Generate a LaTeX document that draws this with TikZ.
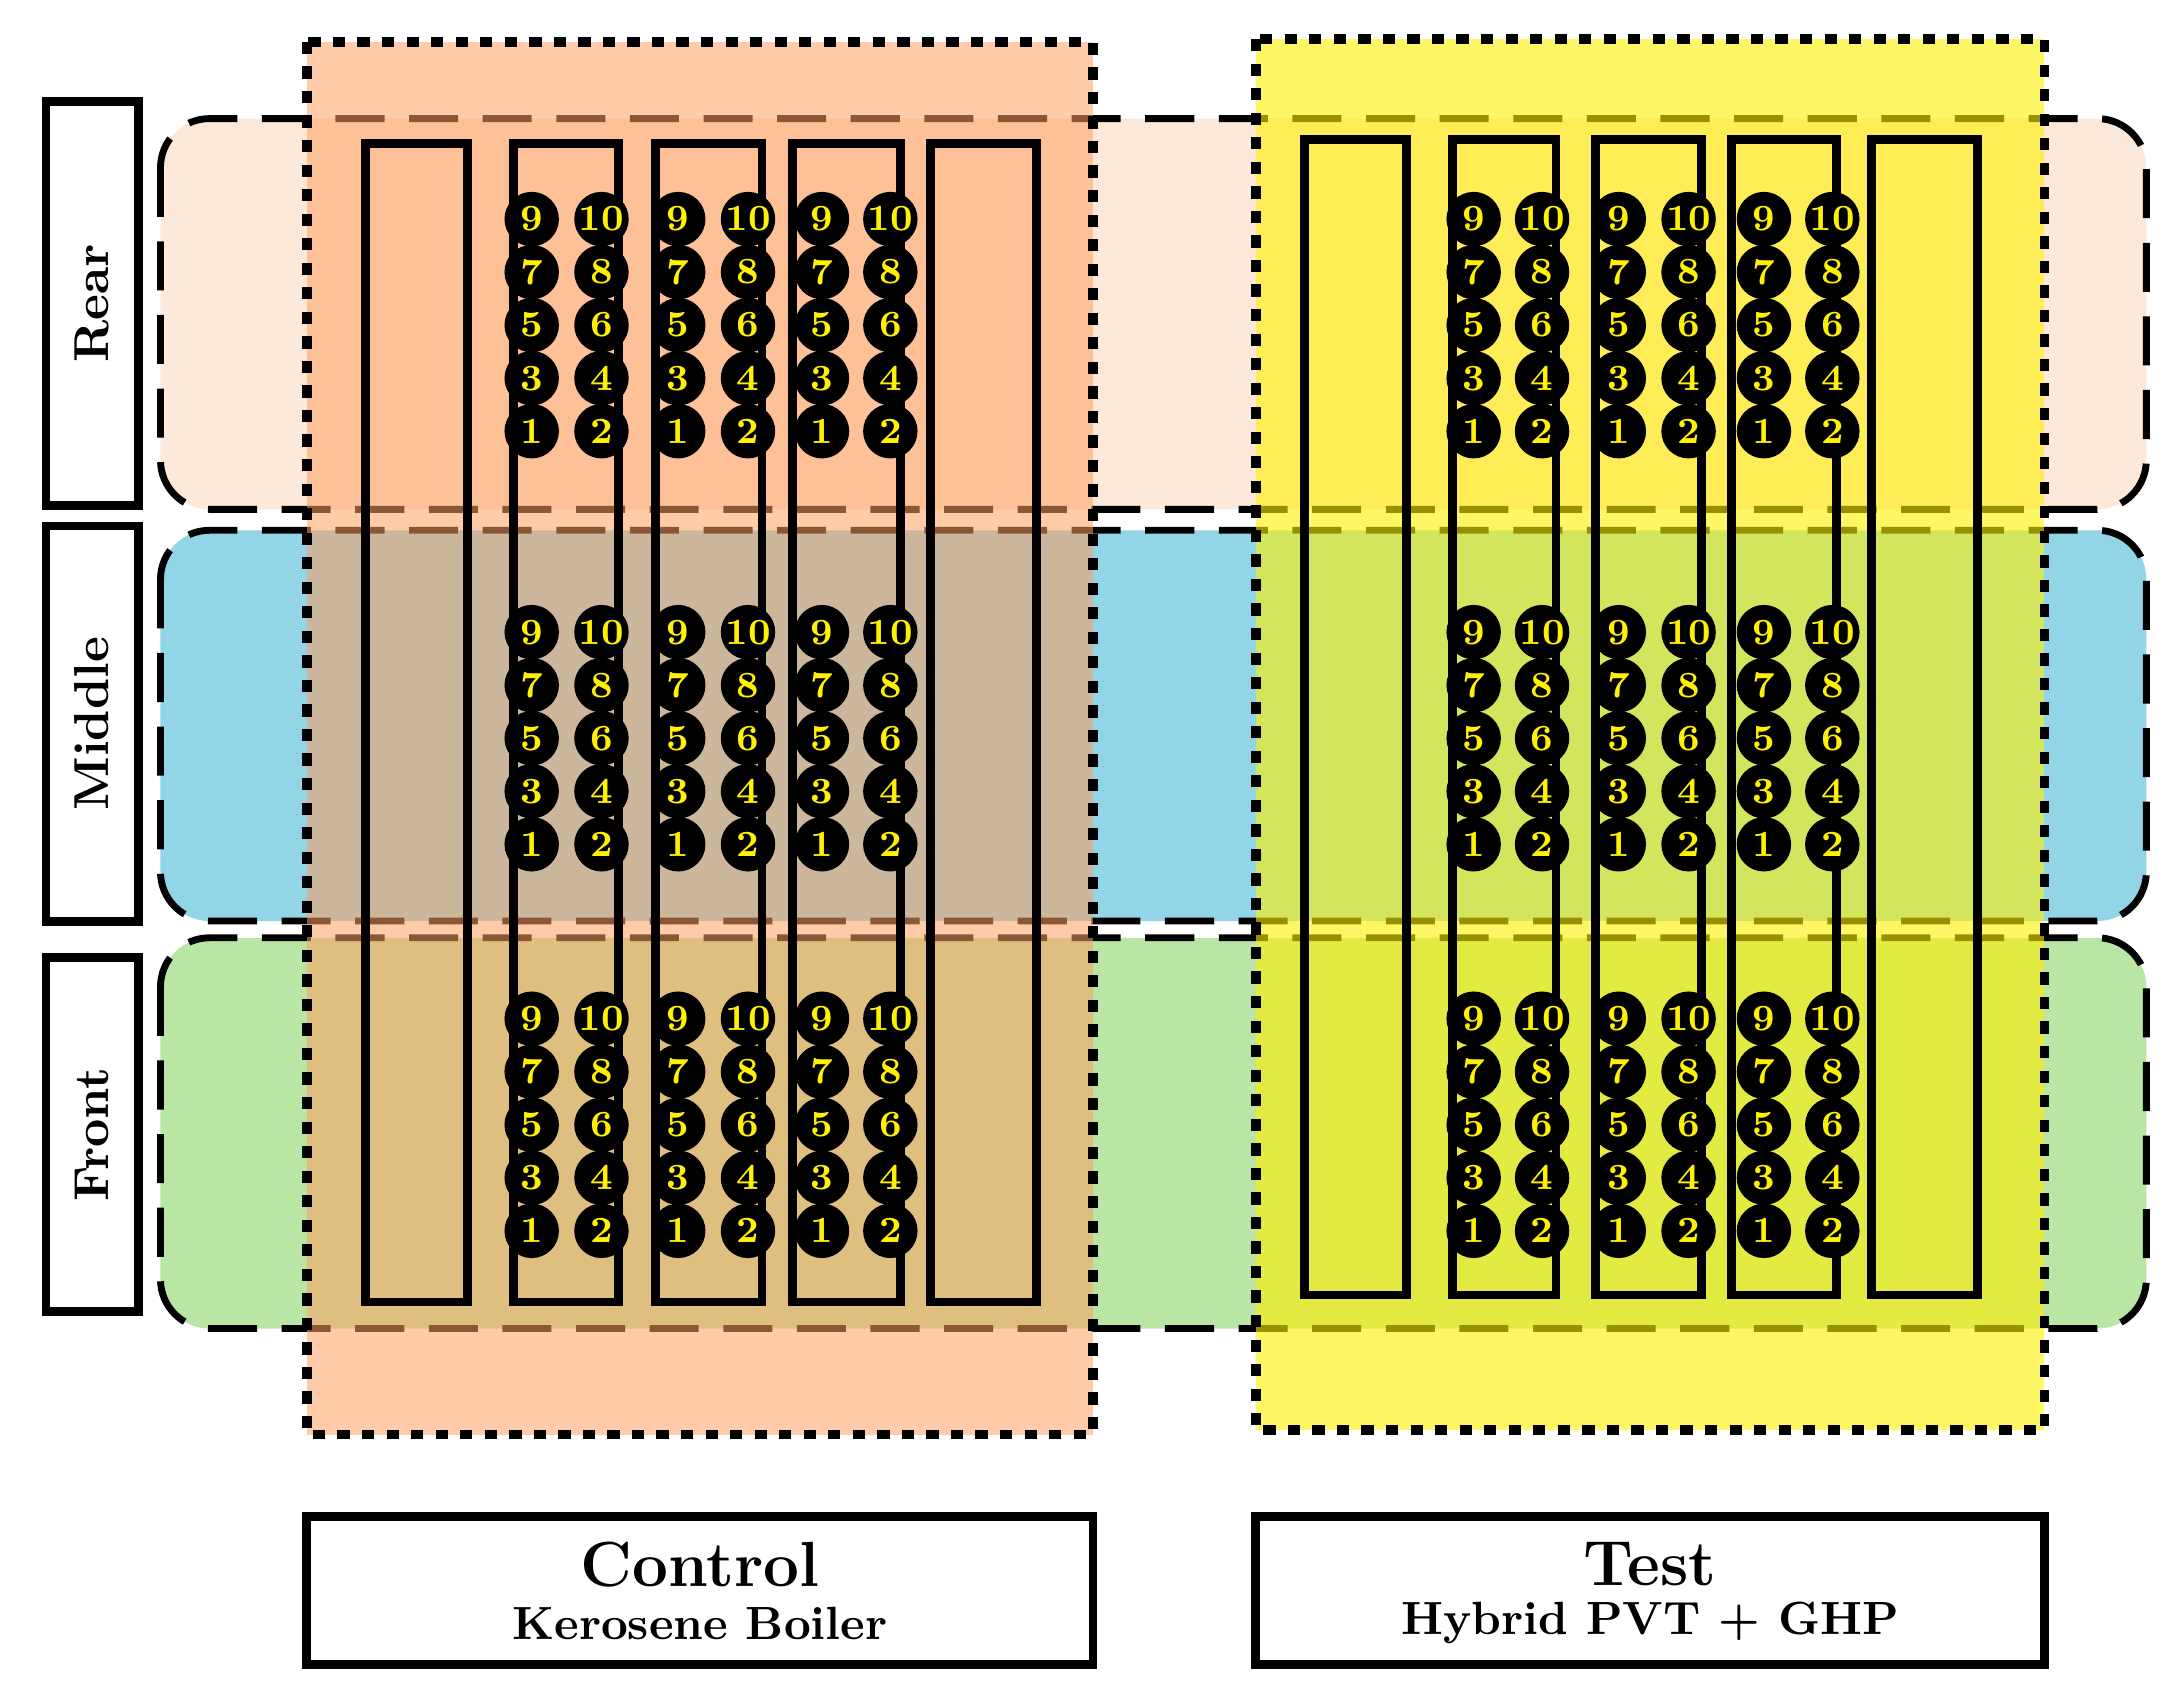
\documentclass[tikz,border=0pt]{standalone}
\usepackage{tikz}
\usetikzlibrary{positioning}
\definecolor{rearband}{HTML}{FDE9DA}
\definecolor{midband}{HTML}{92D5E6}
\definecolor{frontband}{HTML}{B9E5A5}
\definecolor{ctrlfill}{HTML}{FFA060}
\definecolor{testfill}{HTML}{FFF000}
\definecolor{numcol}{HTML}{FFF200}
\tikzset{
  band/.style={draw=black, line width=1.4pt, dash pattern=on 10pt off 5pt, rounded corners=10pt},
  column/.style={draw=black, line width=2pt, dash pattern=on 2.5pt off 2.5pt, fill opacity=0.6},
  rack/.style={draw=black, line width=1.8pt},
  label box/.style={draw=black, line width=1.8pt, fill=white},
  sensor/.style={circle, fill=black, minimum width=0.39cm, inner sep=0pt, text=numcol, font=\bfseries\fontsize{7.5}{7.5}\selectfont},
}
\begin{document}
\begin{tikzpicture}[x=0.01cm, y=-0.01cm]
\useasboundingbox (0,0) rectangle (1560,1216);

% row bands
\fill[rearband, rounded corners=10pt] (115,85) rectangle (1538,365);
\fill[midband, rounded corners=10pt] (115,380) rectangle (1538,660);
\fill[frontband, rounded corners=10pt] (115,672) rectangle (1538,952);
\draw[band] (115,85) rectangle (1538,365);
\draw[band] (115,380) rectangle (1538,660);
\draw[band] (115,672) rectangle (1538,952);

% columns
\fill[ctrlfill, opacity=0.55] (220,30) rectangle (783,1028);
\fill[testfill, opacity=0.6] (900,28) rectangle (1465,1025);
\draw[column] (220,30) rectangle (783,1028);
\draw[column] (900,28) rectangle (1465,1025);

% racks
\foreach \xa/\xb in {262/335, 368/443, 470/546, 568/645, 667/743}
  \draw[rack] (\xa,103) rectangle (\xb,933);
\foreach \xa/\xb in {935/1008, 1041/1115, 1143/1219, 1241/1316, 1341/1417}
  \draw[rack] (\xa,100) rectangle (\xb,928);

% sensors
\foreach \side/\xl/\xr in {c1/381/431, c2/486/536, c3/589/638, t1/1056/1105, t2/1160/1210, t3/1264/1313}
  \foreach \row/\ytop in {r/157, m/453, f/730}
    \foreach \k in {0,...,4} {
      \pgfmathsetmacro{\yy}{\ytop+38*(4-\k)}
      \pgfmathtruncatemacro{\na}{2*\k+1}
      \pgfmathtruncatemacro{\nb}{2*\k+2}
      \node[sensor] (s-\side-\row-\na) at (\xl,\yy) {\na};
      \node[sensor] (s-\side-\row-\nb) at (\xr,\yy) {\nb};
    }

% row labels
\node[label box, minimum width=0.66cm, minimum height=2.89cm] (rear) at (66,217.5) {};
\node[rotate=90, font=\bfseries] at (rear) {Rear};
\node[label box, minimum width=0.66cm, minimum height=2.83cm] (middle) at (66,518.5) {};
\node[rotate=90, font=\bfseries] at (middle) {Middle};
\node[label box, minimum width=0.66cm, minimum height=2.54cm] (front) at (66,813) {};
\node[rotate=90, font=\bfseries] at (front) {Front};

% group labels
\node[label box, minimum width=5.63cm, minimum height=1.06cm] (control) at (501.5,1140) {};
\node[font=\bfseries\fontsize{13}{15}\selectfont] at (501.5,1121) {Control};
\node[font=\bfseries\fontsize{9.5}{11}\selectfont] at (501.5,1163) {Kerosene Boiler};
\node[label box, minimum width=5.65cm, minimum height=1.06cm] (test) at (1182.5,1140) {};
\node[font=\bfseries\fontsize{13}{15}\selectfont] at (1182.5,1121) {Test};
\node[font=\bfseries\fontsize{9.5}{11}\selectfont] at (1182.5,1163) {Hybrid PVT + GHP};
\end{tikzpicture}
\end{document}
